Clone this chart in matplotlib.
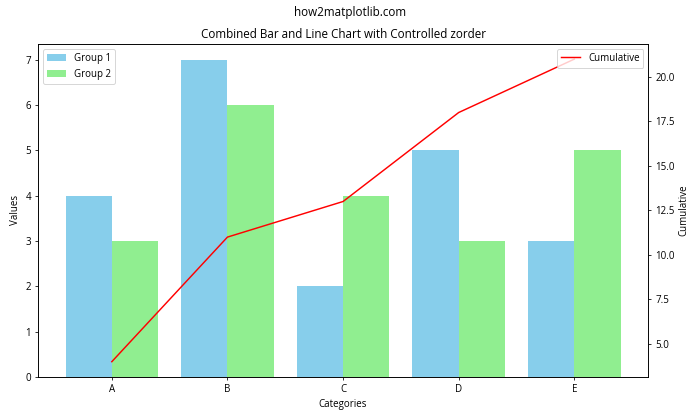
import matplotlib
matplotlib.use("Agg")
import matplotlib.pyplot as plt
import numpy as np

plt.rcParams['font.family'] = ['Open Sans', 'DejaVu Sans']

categories = ['A', 'B', 'C', 'D', 'E']
group1 = [4, 7, 2, 5, 3]
group2 = [3, 6, 4, 3, 5]
cumulative = np.cumsum(group1)

x = np.arange(len(categories))
width = 0.4

fig, ax1 = plt.subplots(figsize=(10, 6), dpi=70)
ax1.bar(x - width/2, group1, width, label='Group 1', color='skyblue', zorder=1)
ax1.bar(x + width/2, group2, width, label='Group 2', color='lightgreen', zorder=1)
ax1.set_xlabel('Categories')
ax1.set_ylabel('Values')
ax1.set_xticks(x)
ax1.set_xticklabels(categories)
ax1.legend(loc='upper left')

ax2 = ax1.twinx()
ax2.plot(x, cumulative, color='red', label='Cumulative', zorder=2)
ax2.set_ylabel('Cumulative')
ax2.legend(loc='upper right')

ax1.set_title('Combined Bar and Line Chart with Controlled zorder')
fig.suptitle('how2matplotlib.com', y=0.985)
fig.tight_layout()
fig.subplots_adjust(top=1 - 44/420)
fig.savefig('out.png')
